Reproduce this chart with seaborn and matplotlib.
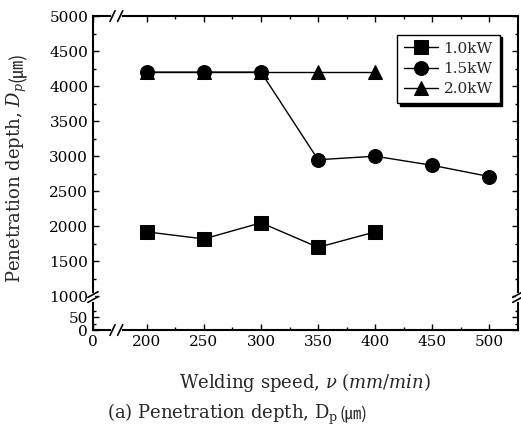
import numpy as np
import pandas as pd
import matplotlib
matplotlib.use('Agg')
import matplotlib.pyplot as plt
import seaborn as sns

speeds_10 = [200, 250, 300, 350, 400]
depth_10 = [1920, 1820, 2050, 1700, 1920]
speeds_15 = [200, 250, 300, 350, 400, 450, 500]
depth_15 = [4200, 4200, 4200, 2950, 3000, 2870, 2710]
speeds_20 = [200, 250, 300, 350, 400]
depth_20 = [4200, 4200, 4200, 4200, 4200]
powers = ['1.0kW', '1.5kW', '2.0kW']

xticks = [0, 200, 250, 300, 350, 400, 450, 500]
yticks = [0, 50, 1000, 1500, 2000, 2500, 3000, 3500, 4000, 4500, 5000]

df = pd.concat([
    pd.DataFrame({'speed': speeds_10, 'depth': depth_10, 'power': '1.0kW'}),
    pd.DataFrame({'speed': speeds_15, 'depth': depth_15, 'power': '1.5kW'}),
    pd.DataFrame({'speed': speeds_20, 'depth': depth_20, 'power': '2.0kW'}),
], ignore_index=True)

sns.set_style('ticks')
plt.rcParams['font.family'] = ['DejaVu Serif', 'Noto Sans CJK KR']
plt.rcParams['mathtext.fontset'] = 'dejavuserif'


# broken axes as piecewise scales
def x_fwd(x):
    x = np.asarray(x, dtype=float)
    return np.where(x >= 200, x, 200 - (200 - x) * 0.236)


def x_inv(s):
    s = np.asarray(s, dtype=float)
    return np.where(s >= 200, s, 200 - (200 - s) / 0.236)


def y_fwd(y):
    y = np.asarray(y, dtype=float)
    return np.where(y >= 1000, y,
                    np.where(y >= 100, 890 + (y - 100) * 110 / 900, 520 + y * 3.7))


def y_inv(s):
    s = np.asarray(s, dtype=float)
    return np.where(s >= 1000, s,
                    np.where(s >= 890, 100 + (s - 890) * 900 / 110, (s - 520) / 3.7))


fig = plt.figure(figsize=(5.21, 4.34), dpi=100)
ax = fig.add_axes([0.1785, 0.2396, 0.8155, 0.7234])

sns.lineplot(data=df, x='speed', y='depth', hue='power', style='power',
             hue_order=powers, style_order=powers,
             palette=['black'] * 3, markers={'1.0kW': 's', '1.5kW': 'o', '2.0kW': '^'},
             dashes=False, estimator=None, markersize=10, markeredgecolor='black',
             linewidth=1.0, ax=ax)

ax.set_xscale('function', functions=(x_fwd, x_inv))
ax.set_yscale('function', functions=(y_fwd, y_inv))
ax.set_xlim(0, 525)
ax.set_ylim(0, 5000)

ax.set_xticks(xticks)
ax.set_xticklabels([str(t) for t in xticks])
ax.set_xticks([225, 275, 325, 375, 425, 475], minor=True)
ax.set_yticks(yticks)
ax.set_yticklabels([str(t) for t in yticks])
ax.set_yticks([25, 75, 1250, 1750, 2250, 2750, 3250, 3750, 4250, 4750], minor=True)
ax.tick_params(which='both', direction='in', top=True, right=True, labelsize=11,
               width=1.0, color='black', labelcolor='black')
ax.tick_params(which='major', length=4)
ax.tick_params(which='minor', length=2.5)
for sp in ax.spines.values():
    sp.set_visible(True)
    sp.set_linewidth(1.5)
    sp.set_color('black')

ax.set_xlabel(r'Welding speed, $\nu\ \mathit{(mm/min)}$', fontsize=13, labelpad=16)
ylab = ax.set_ylabel(r'Penetration depth, $D_p$', fontsize=13)
ax.yaxis.set_label_coords(-0.15, 0.47)
ax.annotate('(㎛)', xy=(0.5, 1.0), xycoords=ylab, ha='center', va='bottom',
            rotation=90, fontsize=13, family=['Noto Sans CJK KR'])

cap = fig.text(0.205, 0.035, r'(a) Penetration depth, $\mathrm{D_p}$', fontsize=13,
               ha='left', va='baseline')
ax.annotate('(㎛)', xy=(1.0, 0.035), xycoords=(cap, 'figure fraction'),
            xytext=(1, 0), textcoords='offset points', ha='left', va='baseline',
            fontsize=12, family=['Noto Sans CJK KR'], annotation_clip=False)

handles, labels = ax.get_legend_handles_labels()
keep = [(h, l) for h, l in zip(handles, labels) if l in powers]
leg = ax.legend([h for h, _ in keep], [l for _, l in keep], loc='upper right',
                bbox_to_anchor=(0.975, 0.965), frameon=True, fancybox=False,
                shadow={'color': 'black', 'alpha': 1.0}, framealpha=1,
                edgecolor='black', fontsize=11, handlelength=2.2,
                borderpad=0.45, labelspacing=0.42, handletextpad=0.4)
leg.get_frame().set_linewidth(1.0)


# break marks on the spines
def hbreak(xa, ya):
    g, dx, dy = 0.009, 0.006, 0.017
    ax.plot([xa - g, xa + g], [ya, ya], color='white', lw=3,
            transform=ax.transAxes, clip_on=False, zorder=5)
    for xc in (xa - g, xa + g):
        ax.plot([xc - dx, xc + dx], [ya - dy, ya + dy], color='black', lw=1.2,
                transform=ax.transAxes, clip_on=False, zorder=6)


def vbreak(xa, ya):
    g, dx, dy = 0.008, 0.012, 0.009
    ax.plot([xa, xa], [ya - g, ya + g], color='white', lw=3,
            transform=ax.transAxes, clip_on=False, zorder=5)
    for yc in (ya - g, ya + g):
        ax.plot([xa - dx, xa + dx], [yc - dy, yc + dy], color='black', lw=1.2,
                transform=ax.transAxes, clip_on=False, zorder=6)


hbreak(0.055, 0.0)
hbreak(0.055, 1.0)
vbreak(0.0, 0.105)
vbreak(1.0, 0.105)

fig.savefig('out.png', dpi=100)
